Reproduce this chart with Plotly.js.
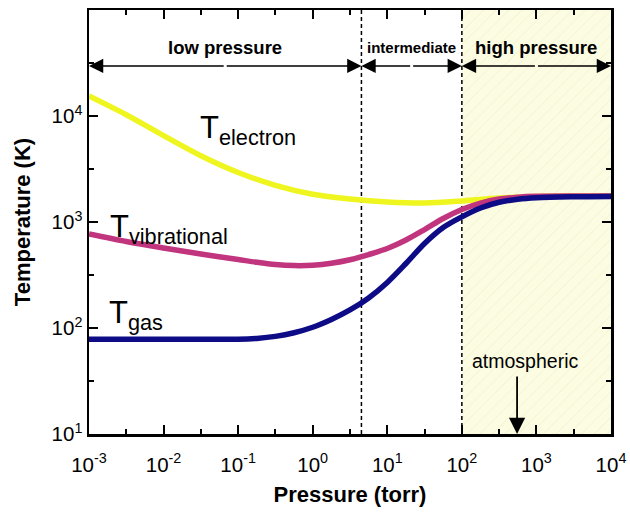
<!DOCTYPE html>
<html><head><meta charset="utf-8">
<script src="https://cdn.plot.ly/plotly-3.0.1.min.js"></script>
<style>html,body{margin:0;padding:0;background:#fff}#chart{width:630px;height:514px}</style>
</head><body><div id="chart"></div>
<script>
// ---- data (pressure in torr, temperature in K) ----
const elecP = [0.001, 0.00316, 0.01, 0.0316, 0.1, 0.316, 1, 3.16, 10, 31.6, 100, 316, 1000, 3162, 10000];
const elecT = [15450, 10280, 6530, 4220, 2930, 2220, 1828, 1648, 1545, 1510, 1578, 1683, 1741, 1758, 1758];

const vibP = [0.001, 0.00316, 0.01, 0.0316, 0.1, 0.178, 0.316, 0.562, 1, 1.78, 3.16, 5.62, 10, 17.8, 31.6, 56.2, 100, 178, 316, 562, 1000, 3162, 10000];
const vibT = [771, 655, 569, 499, 443, 417, 397, 388, 391, 408, 440, 493, 562, 676, 849, 1079, 1312, 1510, 1648, 1714, 1746, 1758, 1758];

const gasP = [0.001, 0.01, 0.0316, 0.1, 0.178, 0.316, 0.562, 1, 1.78, 3.16, 5.62, 10, 17.8, 31.6, 56.2, 100, 178, 316, 562, 1000, 3162, 10000];
const gasT = [78.2, 78.2, 78.2, 78.3, 79.8, 83.4, 90.2, 101.6, 120.3, 147.9, 192, 269, 406, 627, 887, 1119, 1355, 1535, 1638, 1692, 1728, 1742];

const regionEdges = [0.001, 4.5, 100, 10000];
const regionNames = ['low pressure', 'intermediate', 'high pressure'];
const atmosphericP = 550;

const xTickVals = [1e-3, 1e-2, 1e-1, 1e0, 1e1, 1e2, 1e3, 1e4];
const xTickText = ['10<sup>-3</sup>','10<sup>-2</sup>','10<sup>-1</sup>','10<sup>0</sup>','10<sup>1</sup>','10<sup>2</sup>','10<sup>3</sup>','10<sup>4</sup>'];
const xMinorVals = [0.00316, 0.0316, 0.316, 3.16, 31.6, 316, 3162];
const yTickVals = [10, 100, 1000, 10000];
const yTickText = ['10<sup>1</sup>','10<sup>2</sup>','10<sup>3</sup>','10<sup>4</sup>'];
const yMinorVals = [31.6, 316, 3162, 31623];
const yRangeVals = [10, 100000];

// ---- build ----
const FONT = 'Liberation Sans, Arial, sans-serif';
const lg = Math.log10;
const yLo = yRangeVals[0], yHi = yRangeVals[1];
const xRange = [lg(regionEdges[0]), lg(regionEdges[3])];
const yRange = [lg(yLo), lg(yHi)];

const traces = [];
traces.push({
  x: [regionEdges[2], regionEdges[3], regionEdges[3], regionEdges[2], regionEdges[2]],
  y: [yLo, yLo, yHi, yHi, yLo],
  mode: 'lines', line: {width: 0}, fill: 'toself',
  fillcolor: '#fcfce3',
  fillpattern: {shape: '/', bgcolor: '#fcfce3', fgcolor: '#f1f1cc', size: 9, solidity: 0.1},
  hoverinfo: 'skip', showlegend: false
});
[regionEdges[1], regionEdges[2]].forEach(p => traces.push({
  x: [p, p], y: [yLo, yHi], mode: 'lines',
  line: {color: '#000', width: 1.5, dash: '4px,3px'}, hoverinfo: 'skip', showlegend: false
}));
const curveLine = c => ({color: c, width: 5.5, shape: 'spline', smoothing: 0.9});
traces.push({x: elecP, y: elecT, mode: 'lines', line: curveLine('#eff51f'), showlegend: false});
traces.push({x: vibP, y: vibT, mode: 'lines', line: curveLine('#c1357f'), showlegend: false});
traces.push({x: gasP, y: gasT, mode: 'lines', line: curveLine('#0d0c86'), showlegend: false});
// invisible trace to carry the mirrored minor-tick axes
traces.push({x: [regionEdges[0]], y: [yLo], xaxis: 'x2', yaxis: 'y2', mode: 'markers', marker: {opacity: 0}, hoverinfo: 'skip', showlegend: false});

const annotations = [];
const arrowY = 4.472, labelY = 4.65;
for (let i = 0; i < 3; i++) {
  const a = lg(regionEdges[i]), b = lg(regionEdges[i+1]), m = (a + b) / 2;
  [a, b].forEach(end => annotations.push({
    x: end, y: arrowY, ax: m, ay: arrowY, xref: 'x', yref: 'y', axref: 'x', ayref: 'y',
    text: '', showarrow: true, arrowhead: 2, arrowsize: 1.9, arrowwidth: 1.5, arrowcolor: '#000', standoff: 0
  }));
  annotations.push({
    x: m, y: labelY, xref: 'x', yref: 'y', text: '<b>' + regionNames[i] + '</b>', showarrow: false,
    font: {family: FONT, size: i === 1 ? 15 : 18.5, color: '#000'}
  });
}
annotations.push({x: -1.538, y: 3.872, xref: 'x', yref: 'y', xanchor: 'left', yanchor: 'middle', showarrow: false,
  text: 'T<sub>electron</sub>', font: {family: FONT, size: 31, color: '#000'}});
annotations.push({x: -2.745, y: 2.934, xref: 'x', yref: 'y', xanchor: 'left', yanchor: 'middle', showarrow: false,
  text: 'T<sub>vibrational</sub>', font: {family: FONT, size: 31, color: '#000'}});
annotations.push({x: -2.759, y: 2.123, xref: 'x', yref: 'y', xanchor: 'left', yanchor: 'middle', showarrow: false,
  text: 'T<sub>gas</sub>', font: {family: FONT, size: 31, color: '#000'}});
annotations.push({x: lg(atmosphericP), y: 1.0, ax: lg(atmosphericP), ay: 1.557, xref: 'x', yref: 'y', axref: 'x', ayref: 'y',
  text: '', showarrow: true, arrowhead: 2, arrowsize: 1.8, arrowwidth: 1.8, arrowcolor: '#000', standoff: 0});
annotations.push({x: lg(atmosphericP), y: 1.69, xref: 'x', yref: 'y', xshift: 8, text: 'atmospheric', showarrow: false,
  font: {family: FONT, size: 19.5, color: '#000'}});

const axisCommon = {
  showline: true, linecolor: '#000', linewidth: 2.5, mirror: 'allticks',
  ticks: 'inside', ticklen: 9, tickwidth: 2, tickcolor: '#000',
  showgrid: false, zeroline: false, tickmode: 'array',
  tickfont: {family: FONT, size: 20.5, color: '#000'}
};
const minorTicks = {tickmode: 'array', ticks: 'inside', ticklen: 5, tickwidth: 2, tickcolor: '#000'};
const layout = {
  width: 630, height: 514,
  margin: {l: 89, r: 19, t: 10, b: 80},
  paper_bgcolor: '#fff', plot_bgcolor: '#fff',
  hovermode: false, showlegend: false,
  xaxis: Object.assign({}, axisCommon, {
    type: 'log', range: xRange,
    tickvals: xTickVals, ticktext: xTickText, ticklabelstandoff: 11,
    minor: Object.assign({tickvals: xMinorVals}, minorTicks),
    title: {text: '<b>Pressure (torr)</b>', font: {family: FONT, size: 22, color: '#000'}, standoff: 12}
  }),
  yaxis: Object.assign({}, axisCommon, {
    type: 'log', range: yRange,
    tickvals: yTickVals, ticktext: yTickText,
    minor: Object.assign({tickvals: yMinorVals}, minorTicks),
    title: {text: '<b>Temperature (K)</b>', font: {family: FONT, size: 22, color: '#000'}, standoff: 15}
  }),
  xaxis2: {type: 'log', range: xRange, overlaying: 'x', side: 'top', anchor: 'y', showline: false, showgrid: false, zeroline: false,
    tickmode: 'array', tickvals: xMinorVals, ticks: 'inside', ticklen: 5, tickwidth: 2, tickcolor: '#000', showticklabels: false},
  yaxis2: {type: 'log', range: yRange, overlaying: 'y', side: 'right', anchor: 'x', showline: false, showgrid: false, zeroline: false,
    tickmode: 'array', tickvals: yMinorVals, ticks: 'inside', ticklen: 5, tickwidth: 2, tickcolor: '#000', showticklabels: false},
  annotations: annotations
};
Plotly.newPlot('chart', traces, layout, {staticPlot: true, displayModeBar: false});
</script>
</body></html>
